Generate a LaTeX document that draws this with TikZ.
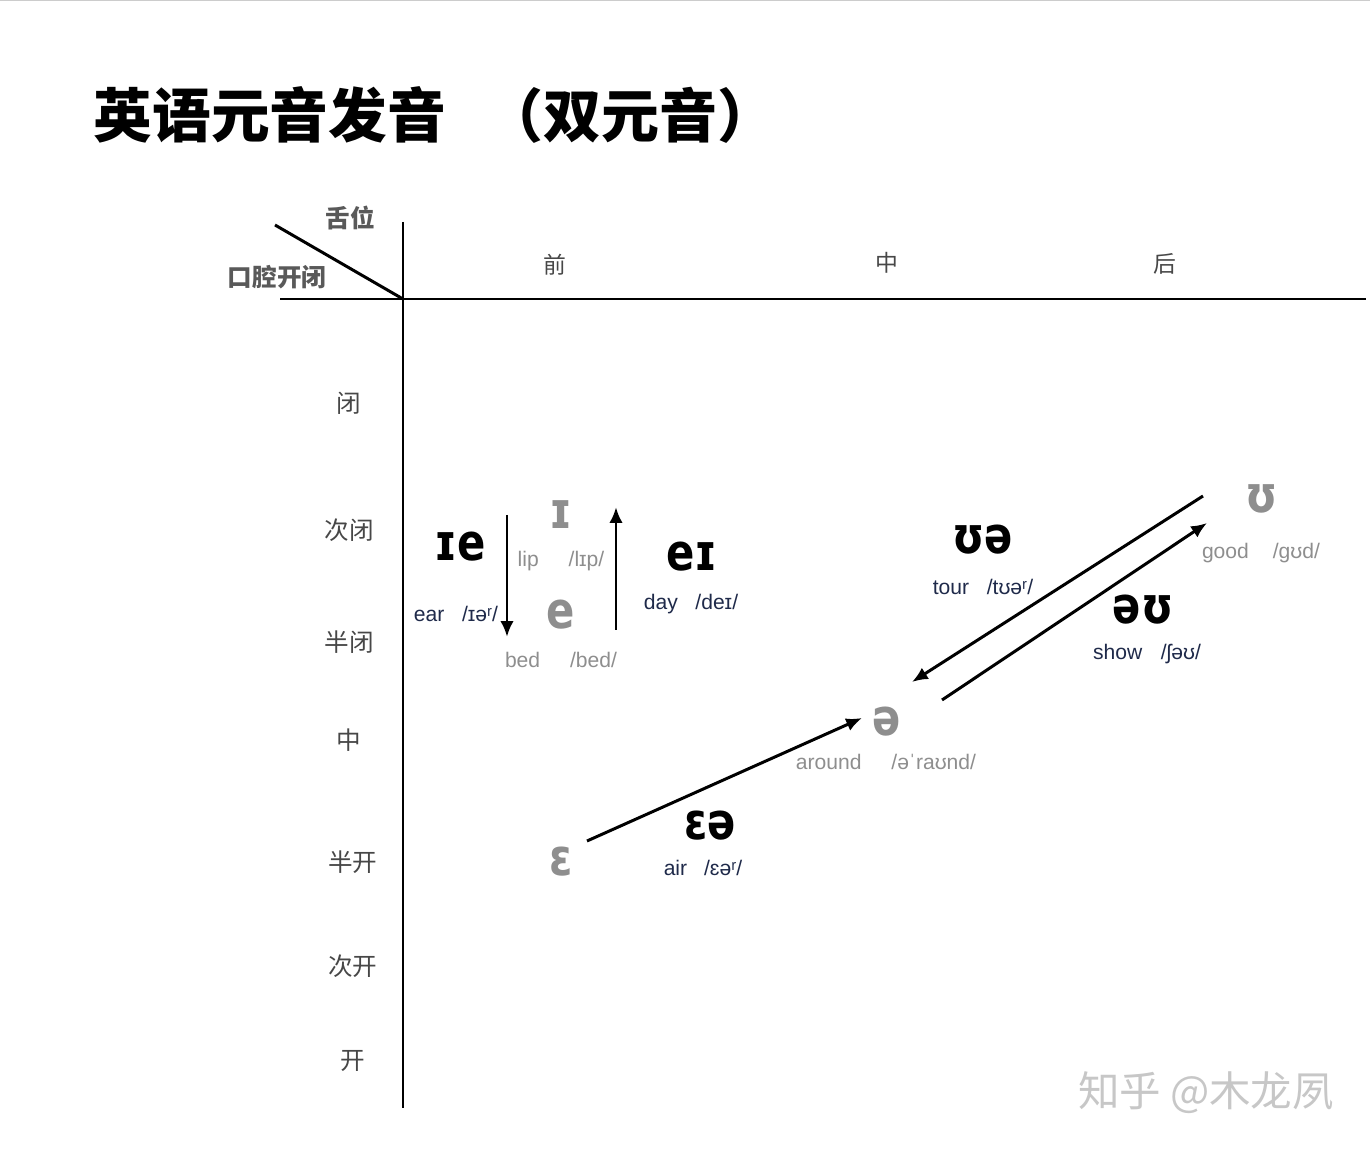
\documentclass[tikz,border=0pt]{standalone}
\usepackage{fontspec}
\setmainfont{Liberation Sans}
\newfontfamily\cjk{Noto Sans CJK SC}
\newfontfamily\ipa[FakeStretch=0.82]{DejaVu Sans}
\usetikzlibrary{arrows.meta}
\definecolor{navy}{HTML}{1F2A4A}
\definecolor{lightgrey}{HTML}{8E8E8E}
\definecolor{darkgrey}{HTML}{474747}
\tikzset{
	diph/.style={inner sep=0pt, font=\ipa\bfseries\fontsize{14.5}{15}\selectfont},
	mono/.style={diph, text=lightgrey},
	navyword/.style={inner sep=0pt, text=navy, font=\fontsize{6}{7}\selectfont},
	greyword/.style={navyword, text=lightgrey},
	rowlabel/.style={inner sep=0pt, text=darkgrey, font=\cjk\fontsize{7}{8}\selectfont},
	glide/.style={line width=0.85pt, -{Latex[length=4.5pt,width=3.8pt]}}
}

\begin{document}
\begin{tikzpicture}
		%%%%% START %%%%%
		\useasboundingbox (0, 0) rectangle (13.70, -11.49);
		\draw[line width=0.3pt, color=black!20] (0, -0.005) -- (13.70, -0.005);
		
		\node[anchor=west, inner sep=0pt, font=\cjk\bfseries\fontsize{16.7}{18}\selectfont] (title) at (0.93, -1.15) {英语元音发音};
		\node[anchor=west, inner sep=0pt, font=\cjk\bfseries\fontsize{16.5}{18}\selectfont] (subtitle) at (4.85, -1.15) {（双元音）};
		
		% axes
		\coordinate (origin) at (4.03, -2.99);
		\draw[line width=0.85pt] (4.03, -2.22) -- (4.03, -11.08);
		\draw[line width=0.85pt] (2.80, -2.99) -- (13.66, -2.99);
		\draw[line width=0.85pt] (2.75, -2.25) -- (origin);
		
		\node[rowlabel, font=\cjk\bfseries\fontsize{7}{8}\selectfont, text=black!65] (tongue) at (3.50, -2.18) {舌位};
		\node[rowlabel, font=\cjk\bfseries\fontsize{7}{8}\selectfont, text=black!65] (mouth) at (2.77, -2.77) {口腔开闭};
		
		\node[rowlabel, font=\cjk\fontsize{6.5}{8}\selectfont] (front) at (5.55, -2.65) {前};
		\node[rowlabel, font=\cjk\fontsize{6.5}{8}\selectfont] (central) at (8.87, -2.63) {中};
		\node[rowlabel, font=\cjk\fontsize{6.5}{8}\selectfont] (back) at (11.65, -2.64) {后};
		
		\node[rowlabel] (close) at (3.49, -4.03) {闭};
		\node[rowlabel] (nearclose) at (3.49, -5.30) {次闭};
		\node[rowlabel] (closemid) at (3.49, -6.42) {半闭};
		\node[rowlabel] (mid) at (3.49, -7.40) {中};
		\node[rowlabel] (openmid) at (3.53, -8.62) {半开};
		\node[rowlabel] (nearopen) at (3.53, -9.66) {次开};
		\node[rowlabel] (open) at (3.53, -10.61) {开};
		
		% front vowels
		\node[diph] (ie) at (4.60, -5.47) {ɪe};
		\node[navyword] (iew) at (4.56, -6.14) {ear\hspace{5pt}/ɪəʳ/};
		\node[mono] (lipv) at (5.61, -5.15) {ɪ};
		\node[greyword] (lipw) at (5.61, -5.61) {lip\hspace{8.5pt}/lɪp/};
		\node[mono] (bedv) at (5.61, -6.15) {e};
		\node[greyword] (bedw) at (5.61, -6.60) {bed\hspace{8.5pt}/bed/};
		\node[diph] (ei) at (6.92, -5.57) {eɪ};
		\node[navyword] (eiw) at (6.91, -6.04) {day\hspace{5pt}/deɪ/};
		
		\coordinate (ie-a) at (5.07, -5.15);
		\coordinate (ie-b) at (5.07, -6.37);
		\coordinate (ei-a) at (6.16, -6.30);
		\coordinate (ei-b) at (6.16, -5.07);
		\draw[glide] (ie-a) -- (ie-b);
		\draw[glide] (ei-a) -- (ei-b);
		
		% central and back vowels
		\node[diph] (ua) at (9.83, -5.40) {ʊə};
		\node[navyword] (uaw) at (9.83, -5.87) {tour\hspace{5pt}/tʊəʳ/};
		\node[mono] (goodv) at (12.62, -4.99) {ʊ};
		\node[greyword] (goodw) at (12.61, -5.53) {good\hspace{6.8pt}/gʊd/};
		\node[diph] (ou) at (11.43, -6.10) {əʊ};
		\node[navyword] (ouw) at (11.47, -6.54) {show\hspace{5.3pt}/ʃəʊ/};
		\node[mono] (schwa) at (8.87, -7.22) {ə};
		\node[greyword] (schwaw) at (8.86, -7.62) {around\hspace{8.5pt}/əˈraʊnd/};
		\node[mono] (epsv) at (5.61, -8.62) {ɛ};
		\node[diph] (ea) at (7.10, -8.26) {ɛə};
		\node[navyword] (eaw) at (7.03, -8.68) {air\hspace{4.8pt}/ɛəʳ/};
		
		\coordinate (ua-a) at (12.03, -4.96);
		\coordinate (ua-b) at (9.12, -6.82);
		\coordinate (ou-a) at (9.42, -7.00);
		\coordinate (ou-b) at (12.07, -5.23);
		\coordinate (ea-a) at (5.87, -8.41);
		\coordinate (ea-b) at (8.62, -7.18);
		\draw[glide] (ua-a) -- (ua-b);
		\draw[glide] (ou-a) -- (ou-b);
		\draw[glide] (ea-a) -- (ea-b);
		
		\node[inner sep=0pt, text=black!22, font=\cjk\fontsize{11.8}{13}\selectfont] (mark) at (12.06, -10.93) {知乎 @木龙夙};
		%%%%% END %%%%%
\end{tikzpicture}
\end{document}
